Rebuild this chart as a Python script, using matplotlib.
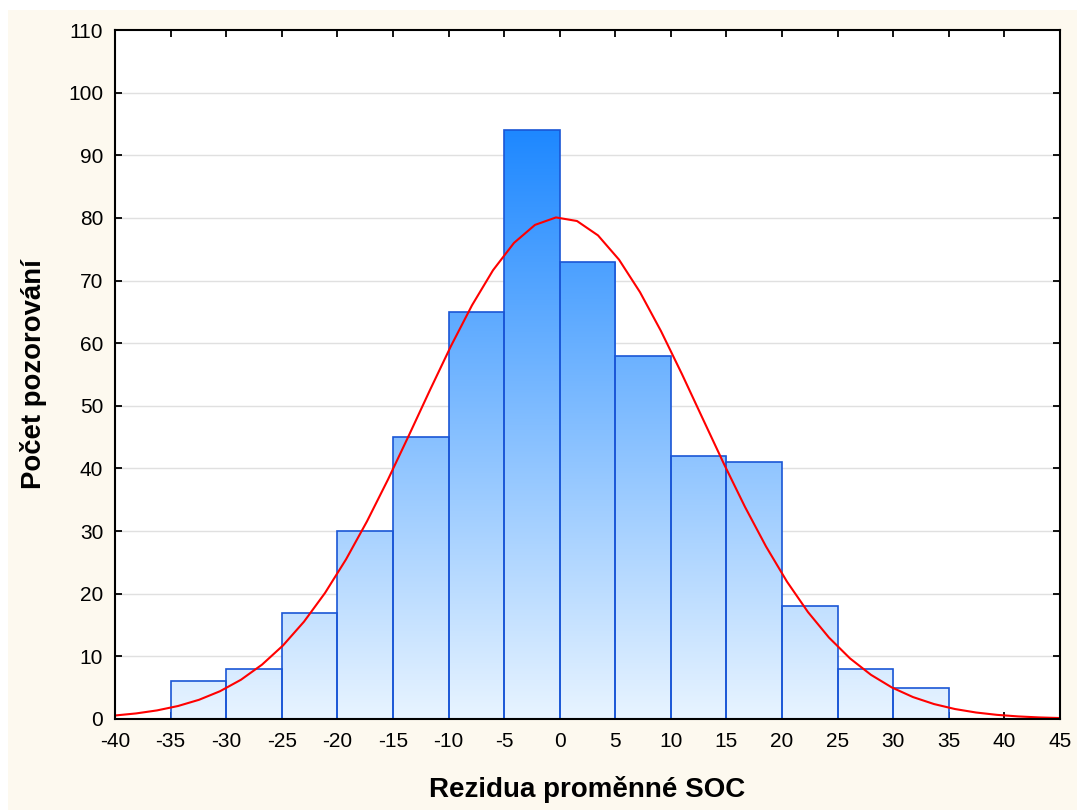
import numpy as np
import matplotlib
matplotlib.use("Agg")
import matplotlib.pyplot as plt
from matplotlib.patches import Rectangle
from matplotlib.colors import LinearSegmentedColormap

plt.rcParams['font.family'] = ['Liberation Sans', 'DejaVu Sans']

# Histogram data (bin edges every 5 units)
bin_left = [-40, -35, -30, -25, -20, -15, -10, -5, 0, 5, 10, 15, 20, 25, 30]
counts = [0, 6, 8, 17, 30, 45, 65, 94, 73, 58, 42, 41, 18, 8, 5]
bin_width = 5

# Fitted normal curve parameters
fit_mean = 0.0
fit_sd = 12.7
n_total = sum(counts)

x_ticks = list(range(-40, 50, 5))
y_ticks = list(range(0, 120, 10))

xlabel = "Rezidua proměnné SOC"
ylabel = "Počet pozorování"

fig = plt.figure(figsize=(10.78, 8.10), dpi=100)
fig.patch.set_facecolor('white')
fig.patches.append(Rectangle((8/1078, 0), (1077-8)/1078, 1 - 10/810,
                             transform=fig.transFigure, facecolor='#fdf9ef',
                             edgecolor='none', zorder=-10))

ax = fig.add_axes([115/1078, 1 - 719/810, (1060-115)/1078, (719-30)/810])
ax.set_facecolor('white')
ax.set_xlim(-40, 45)
ax.set_ylim(0, 110)

# gridlines
for yv in y_ticks[1:-1]:
    ax.axhline(yv, color='#e0e0e0', lw=1.0, zorder=0)

# gradient bars
cmap = LinearSegmentedColormap.from_list('g', ['#e8f4ff', '#1e88ff'])
grad = np.linspace(0, 1, 256).reshape(-1, 1)
ymax = max(counts)
bars = ax.bar(bin_left, counts, width=bin_width, align='edge',
              facecolor='none', edgecolor='#1a56d6', linewidth=1.2, zorder=3)
for b in bars:
    if b.get_height() <= 0:
        continue
    im = ax.imshow(grad, cmap=cmap, origin='lower', aspect='auto',
                   extent=[-40, 45, 0, ymax], zorder=2, interpolation='bilinear')
    im.set_clip_path(b)

# normal curve
xc = np.linspace(-40, 45, 46)
yc = n_total * bin_width / (fit_sd * np.sqrt(2 * np.pi)) * np.exp(-0.5 * ((xc - fit_mean) / fit_sd) ** 2)
ax.plot(xc, yc, color='red', lw=1.5, zorder=4)

ax.set_xlim(-40, 45)
ax.set_ylim(0, 110)
ax.set_xticks(x_ticks)
ax.set_xticklabels([str(v) for v in x_ticks])
ax.set_yticks(y_ticks)
ax.set_yticklabels([str(v) for v in y_ticks])
ax.tick_params(direction='in', length=5, width=1.3, top=True, right=True,
               labelsize=15, colors='black')
ax.tick_params(axis='x', pad=9.5)
ax.tick_params(axis='y', pad=8.5)
for s in ax.spines.values():
    s.set_linewidth(1.5)
    s.set_color('black')
    s.set_zorder(5)

ax.set_xlabel(xlabel, fontsize=20, fontweight='bold', va='center')
ax.xaxis.set_label_coords(0.5, -0.103)
ax.set_ylabel(ylabel, fontsize=19.8, fontweight='bold', va='center', ha='center')
ax.yaxis.set_label_coords(-0.086, 0.5)

fig.savefig('out.png', dpi=100, facecolor=fig.get_facecolor())
